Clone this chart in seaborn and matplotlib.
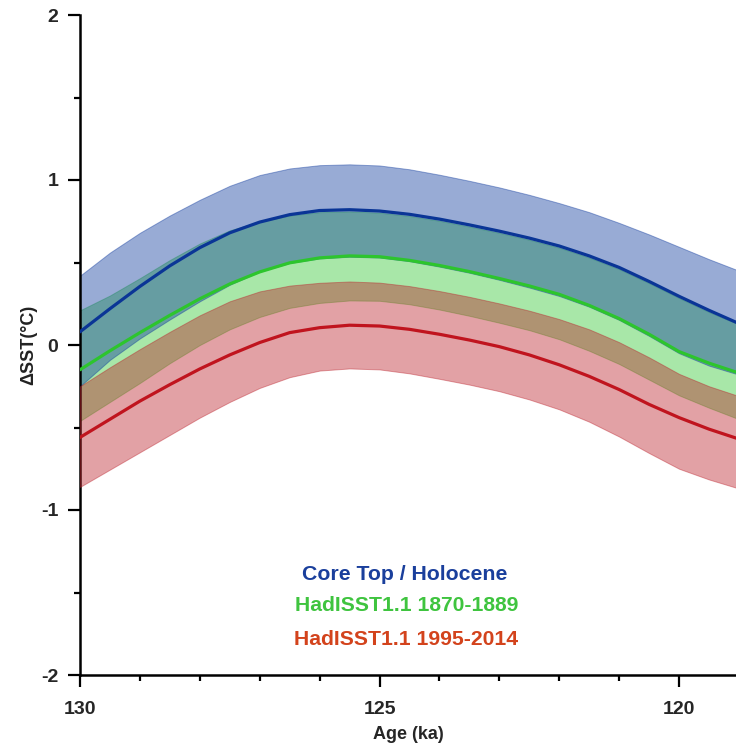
import numpy as np
import pandas as pd
import matplotlib
matplotlib.use("Agg")
import matplotlib.pyplot as plt
from matplotlib.ticker import MultipleLocator
import seaborn as sns

# Age axis (ka)
age = [130, 129.5, 129, 128.5, 128, 127.5, 127, 126.5, 126, 125.5, 125,
       124.5, 124, 123.5, 123, 122.5, 122, 121.5, 121, 120.5, 120, 119.5, 119]

# Core Top / Holocene reference
core_mean = [0.08, 0.22, 0.355, 0.48, 0.59, 0.68, 0.745, 0.79, 0.815, 0.82, 0.812,
             0.792, 0.763, 0.728, 0.69, 0.648, 0.60, 0.54, 0.47, 0.385, 0.295, 0.21, 0.13]
core_upper = [0.42, 0.56, 0.68, 0.785, 0.88, 0.965, 1.03, 1.07, 1.09, 1.095, 1.088,
              1.065, 1.032, 0.995, 0.955, 0.91, 0.86, 0.805, 0.74, 0.67, 0.595, 0.52, 0.45]
core_lower = [-0.25, -0.09, 0.04, 0.155, 0.265, 0.365, 0.445, 0.497, 0.525, 0.535, 0.53,
              0.508, 0.475, 0.438, 0.395, 0.348, 0.297, 0.232, 0.152, 0.055, -0.05, -0.125, -0.18]

# HadISST1.1 1870-1889 reference
had1_mean = [-0.15, -0.035, 0.075, 0.18, 0.28, 0.37, 0.443, 0.498, 0.528, 0.54, 0.535,
             0.513, 0.482, 0.445, 0.403, 0.358, 0.307, 0.24, 0.16, 0.065, -0.04, -0.11, -0.17]
had1_upper = [0.21, 0.30, 0.405, 0.515, 0.615, 0.695, 0.748, 0.785, 0.805, 0.81, 0.802,
              0.782, 0.753, 0.718, 0.68, 0.638, 0.59, 0.53, 0.46, 0.375, 0.285, 0.20, 0.125]
had1_lower = [-0.46, -0.345, -0.23, -0.11, 0.0, 0.095, 0.17, 0.225, 0.255, 0.27, 0.268,
              0.247, 0.215, 0.177, 0.135, 0.09, 0.035, -0.035, -0.115, -0.21, -0.305, -0.38, -0.45]

# HadISST1.1 1995-2014 reference
had2_mean = [-0.56, -0.45, -0.34, -0.24, -0.145, -0.06, 0.015, 0.075, 0.105, 0.12, 0.115,
             0.095, 0.065, 0.03, -0.01, -0.06, -0.12, -0.19, -0.27, -0.36, -0.44, -0.51, -0.57]
had2_upper = [-0.25, -0.135, -0.025, 0.08, 0.18, 0.265, 0.325, 0.36, 0.377, 0.385, 0.378,
              0.357, 0.327, 0.292, 0.252, 0.208, 0.157, 0.095, 0.017, -0.075, -0.175, -0.25, -0.31]
had2_lower = [-0.86, -0.755, -0.65, -0.545, -0.44, -0.345, -0.26, -0.195, -0.155, -0.142, -0.148,
              -0.172, -0.205, -0.24, -0.28, -0.33, -0.39, -0.465, -0.555, -0.655, -0.75, -0.815, -0.87]

labels = ["Core Top / Holocene", "HadISST1.1 1870-1889", "HadISST1.1 1995-2014"]
label_colors = ["#1a3f9c", "#3fc43f", "#d3431c"]

x_ticks = [130, 125, 120]
y_ticks = [-2, -1, 0, 1, 2]

sns.set_theme(style="ticks")
plt.rcParams["font.family"] = ["Liberation Sans", "DejaVu Sans"]
plt.rcParams["font.weight"] = "bold"

fig = plt.figure(figsize=(7.36, 7.5), dpi=100)
ax = fig.add_axes([0.1087, 0.1, 0.8913, 0.88])

blue = "#0b379c"
green = "#30c830"
red = "#bb1f29"

# Uncertainty envelopes (green first, then blue and red on top)
ax.fill_between(age, had1_lower, had1_upper, facecolor=green, alpha=0.42,
                edgecolor=green, linewidth=0.7, zorder=1)
ax.fill_between(age, core_lower, core_upper, facecolor=blue, alpha=0.42,
                edgecolor=blue, linewidth=0.7, zorder=2)
ax.fill_between(age, had2_lower, had2_upper, facecolor=red, alpha=0.42,
                edgecolor=red, linewidth=0.7, zorder=3)

# Central estimates
sns.lineplot(x=age, y=core_mean, ax=ax, color="#0a3596", linewidth=2.3, zorder=5)
sns.lineplot(x=age, y=had1_mean, ax=ax, color="#2dc52d", linewidth=2.3, zorder=5)
sns.lineplot(x=age, y=had2_mean, ax=ax, color="#c0141e", linewidth=2.3, zorder=5)

ax.set_xlim(130, 119.05)
ax.set_ylim(-2, 2)

ax.set_xticks(x_ticks)
ax.set_xticklabels([str(t) for t in x_ticks])
ax.set_yticks(y_ticks)
ax.set_yticklabels([str(t) for t in y_ticks])
ax.xaxis.set_minor_locator(MultipleLocator(1))
ax.yaxis.set_minor_locator(MultipleLocator(0.5))

for side in ["top", "right"]:
    ax.spines[side].set_visible(False)
for side in ["left", "bottom"]:
    ax.spines[side].set_linewidth(1.8)
    ax.spines[side].set_color("black")

ax.tick_params(axis="both", which="major", direction="out", length=8.6, width=1.6,
               color="black", labelsize=14, pad=7)
ax.tick_params(axis="both", which="minor", direction="out", length=4.5, width=1.6,
               color="black")
ax.tick_params(axis="x", which="major", pad=10)
for lab in ax.get_xticklabels() + ax.get_yticklabels():
    lab.set_fontweight("bold")

ax.set_xlabel("Age (ka)", fontsize=13, fontweight="bold", labelpad=6)
ax.set_ylabel("ΔSST(°C)", fontsize=13, fontweight="bold", color="#222222", labelpad=3)

# Series labels
ax.text(124.58, -1.39, labels[0], color=label_colors[0], fontsize=15.3,
        fontweight="bold", ha="center", va="center")
ax.text(124.55, -1.58, labels[1], color=label_colors[1], fontsize=15.2,
        fontweight="bold", ha="center", va="center")
ax.text(124.55, -1.785, labels[2], color=label_colors[2], fontsize=15.2,
        fontweight="bold", ha="center", va="center")

ax.set_facecolor("white")
fig.patch.set_facecolor("white")
fig.savefig("out.png", dpi=100)
